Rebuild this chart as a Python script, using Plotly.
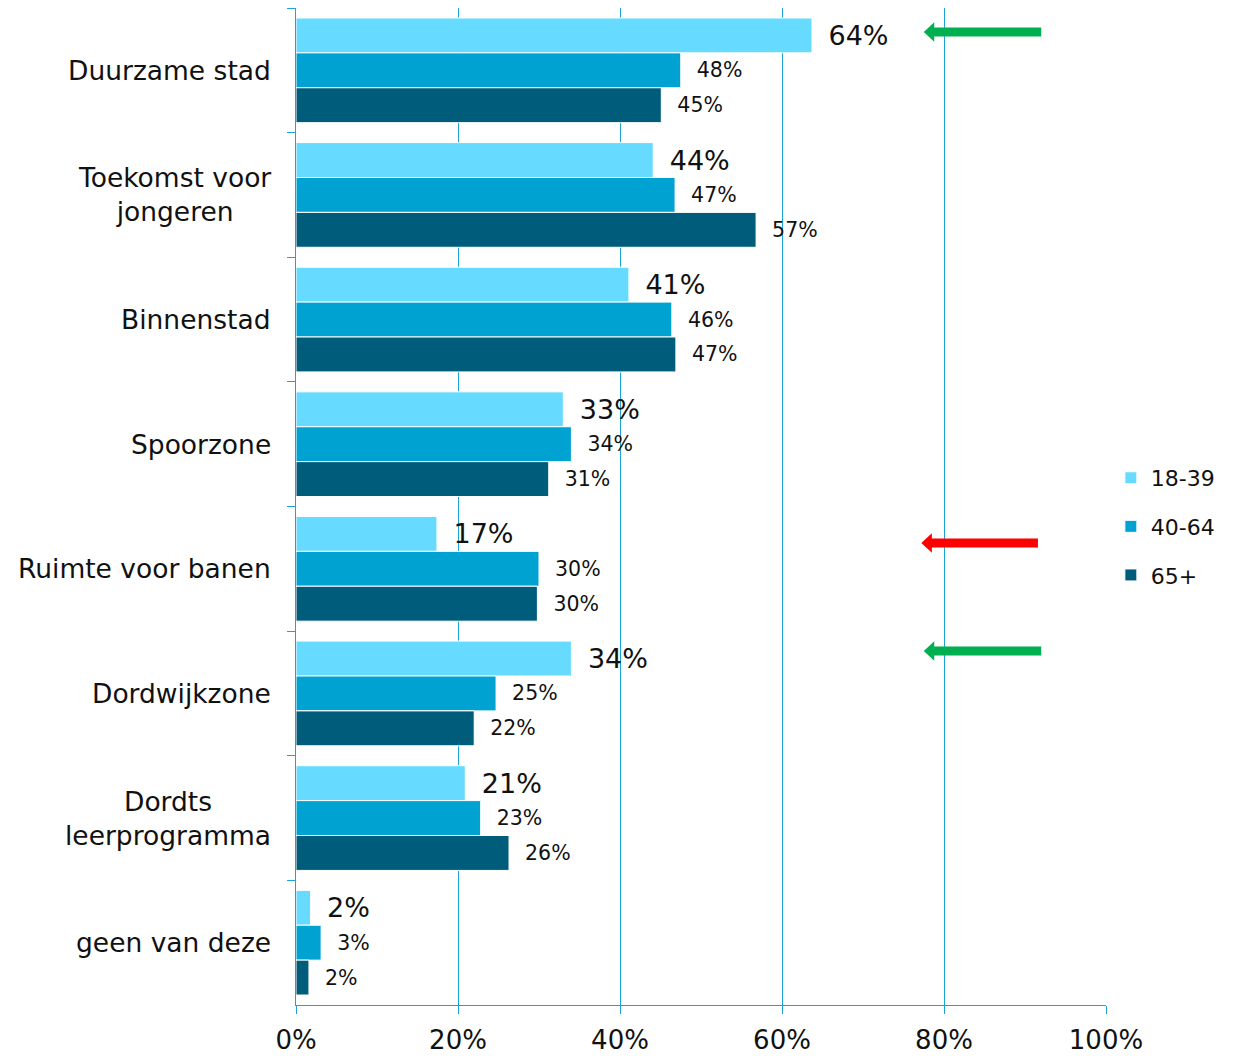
import plotly.graph_objects as go

categories = ["Duurzame stad", "Toekomst voor<br>jongeren", "Binnenstad", "Spoorzone",
              "Ruimte voor banen", "Dordwijkzone", "Dordts<br>leerprogramma", "geen van deze"]
series_names = ["18-39", "40-64", "65+"]
v_18_39 = [63.7, 44.1, 41.1, 33.0, 17.4, 34.0, 20.9, 1.8]
v_40_64 = [47.5, 46.8, 46.4, 34.0, 30.0, 24.7, 22.8, 3.1]
v_65 = [45.1, 56.8, 46.9, 31.2, 29.8, 22.0, 26.3, 1.6]
labels_18_39 = ["64%", "44%", "41%", "33%", "17%", "34%", "21%", "2%"]
labels_40_64 = ["48%", "47%", "46%", "34%", "30%", "25%", "23%", "3%"]
labels_65 = ["45%", "57%", "47%", "31%", "30%", "22%", "26%", "2%"]
x_ticks = [0, 20, 40, 60, 80, 100]

colors = ["#66DBFF", "#00A2D2", "#005C7B"]
axis_color = "#1AA5D6"
FONT = "DejaVu Sans"
NB = "\u00a0"

fig = go.Figure()
for name, vals, labs, col, fs, pad in [
    (series_names[0], v_18_39, labels_18_39, colors[0], 27, "\u2002"),
    (series_names[1], v_40_64, labels_40_64, colors[1], 20.5, NB * 2),
    (series_names[2], v_65, labels_65, colors[2], 20.5, NB * 2),
]:
    fig.add_trace(go.Bar(
        y=categories, x=vals, orientation="h", name=name,
        marker=dict(color=col, line=dict(color="white", width=1)),
        text=[pad + t for t in labs], textposition="outside",
        textfont=dict(family=FONT, size=fs, color="#111111"),
        cliponaxis=False, legendgroup=name,
    ))

# category labels as annotations (centered multi-line)
for c in categories:
    fig.add_annotation(x=-0.028, xref="paper", y=c, yref="y", text=c, showarrow=False,
                       xanchor="right", align="center",
                       font=dict(family=FONT, size=26.5, color="#111111"))

# arrows
arrows = [(0.976, "#00B050", 92.0, 77.5), (0.4634, "#FF0000", 91.6, 77.2), (0.355, "#00B050", 92.0, 77.5)]
for yc, col, xt, xh in arrows:
    xb = xh + 1.3
    fig.add_shape(type="line", xref="x", yref="paper", x0=xb - 0.2, x1=xt, y0=yc, y1=yc,
                  line=dict(color=col, width=9))
    fig.add_shape(type="path", xref="x", yref="paper",
                  path=f"M {xh},{yc} L {xb},{yc + 0.0098} L {xb},{yc - 0.0098} Z",
                  fillcolor=col, line=dict(color=col, width=0))

fig.update_layout(
    width=1225, height=1048,
    margin=dict(l=288, r=127, t=0, b=51, autoexpand=False),
    plot_bgcolor="white", paper_bgcolor="white",
    barmode="group", bargap=0.16, bargroupgap=0,
    font=dict(family=FONT, size=24, color="#111111"),
    showlegend=True,
    legend=dict(x=1.006, y=0.48, xanchor="left", yanchor="middle",
                font=dict(family=FONT, size=22, color="#111111"),
                traceorder="grouped", tracegroupgap=17, itemwidth=30),
)
fig.update_xaxes(range=[0, 100], tickvals=x_ticks, ticktext=[f"{t}%" for t in x_ticks],
                 showgrid=True, gridcolor=axis_color, gridwidth=1,
                 showline=True, linecolor=axis_color, linewidth=1,
                 ticks="outside", ticklen=8, tickcolor=axis_color,
                 zeroline=False, ticklabelstandoff=4,
                 tickfont=dict(family=FONT, size=26, color="#111111"))
fig.update_yaxes(type="category", autorange="reversed", showticklabels=False,
                 showline=True, linecolor=axis_color, linewidth=1,
                 ticks="outside", ticklen=8, tickcolor=axis_color, tickson="boundaries",
                 showgrid=False, zeroline=False)

fig.write_html("out.html")
